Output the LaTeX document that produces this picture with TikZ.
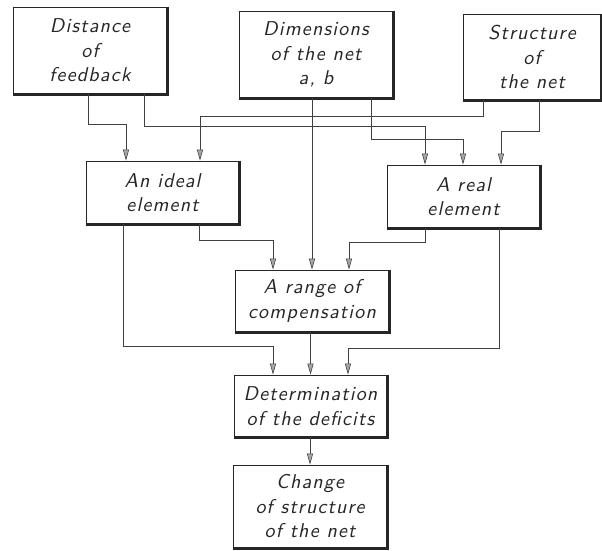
\documentclass[tikz,border=0pt]{standalone}
\usepackage{fontspec}
\newfontfamily\techfont{lmsans10}[Extension=.otf, UprightFont=*-regular, ItalicFont=*-oblique, LetterSpace=6]
\usetikzlibrary{arrows.meta}
\begin{document}
\begin{tikzpicture}[x=1pt,y=-1pt,
  blk/.style={draw=black!85, line width=0.8pt, align=center, inner sep=0pt,
    font=\techfont\itshape\fontsize{20}{24.5}\selectfont, text=black!85},
  conn/.style={draw=black!75, line width=0.6pt},
  arr/.style={conn, -{Triangle[width=6pt,length=11pt,fill=black!35]}}
]
\useasboundingbox (0,0) rectangle (602,551);
\fill[white] (0,0) rectangle (602,551);

\node[blk, minimum width=154pt, minimum height=87pt] (dist) at (90,50.5) {Distance\\of\\feedback};
\node[blk, minimum width=154pt, minimum height=87pt] (dim) at (316,54.5) {Dimensions\\of the net\\a, b};
\node[blk, minimum width=137pt, minimum height=86pt] (struct) at (532,57) {Structure\\of\\the net};
\node[blk, minimum width=153pt, minimum height=63pt] (ideal) at (162.5,192.5) {An ideal\\element};
\node[blk, minimum width=153pt, minimum height=63pt] (real) at (463.5,196.5) {A real\\element};
\node[blk, minimum width=154pt, minimum height=62pt] (range) at (312,301) {A range of\\compensation};
\node[blk, minimum width=153pt, minimum height=62pt] (det) at (310.5,406) {Determination\\of the deficits};
\node[blk, minimum width=154pt, minimum height=83pt] (change) at (310,506.5) {Change\\of structure\\of the net};

\foreach \n in {dist,dim,struct,ideal,real,range,det,change}{
  \draw[black!85, line width=2.4pt] (\n.north east) -- (\n.south east) -- (\n.south west);
}

% connector waypoints
\coordinate (a1) at (88,124);  \coordinate (a2) at (126,124);
\coordinate (b1) at (144,126); \coordinate (b2) at (425,126);
\coordinate (c1) at (371,139); \coordinate (c2) at (463,139);
\coordinate (d1) at (483,116); \coordinate (d2) at (200,116);
\coordinate (e1) at (539,131); \coordinate (e2) at (501,131);
\coordinate (f1) at (199,240); \coordinate (f2) at (273,240);
\coordinate (g1) at (425,242); \coordinate (g2) at (349,242);
\coordinate (h1) at (123,346); \coordinate (h2) at (273,346);
\coordinate (i1) at (499,348); \coordinate (i2) at (348,348);

\draw[arr] (dist.south -| a1) -- (a1) -- (a2) -- (ideal.north -| a2);
\draw[arr] (dist.south -| b1) -- (b1) -- (b2) -- (real.north -| b2);
\draw[arr] (dim.south -| range.north) -- (range.north);
\draw[arr] (dim.south -| c1) -- (c1) -- (c2) -- (real.north -| c2);
\draw[arr] (struct.south -| d1) -- (d1) -- (d2) -- (ideal.north -| d2);
\draw[arr] (struct.south -| e1) -- (e1) -- (e2) -- (real.north -| e2);
\draw[arr] (ideal.south -| f1) -- (f1) -- (f2) -- (range.north -| f2);
\draw[arr] (real.south -| g1) -- (g1) -- (g2) -- (range.north -| g2);
\draw[arr] (ideal.south -| h1) -- (h1) -- (h2) -- (det.north -| h2);
\draw[arr] (real.south -| i1) -- (i1) -- (i2) -- (det.north -| i2);
\draw[arr] (range.south -| det.north) -- (det.north);
\draw[arr] (det.south -| change.north) -- (change.north);
\end{tikzpicture}
\end{document}
